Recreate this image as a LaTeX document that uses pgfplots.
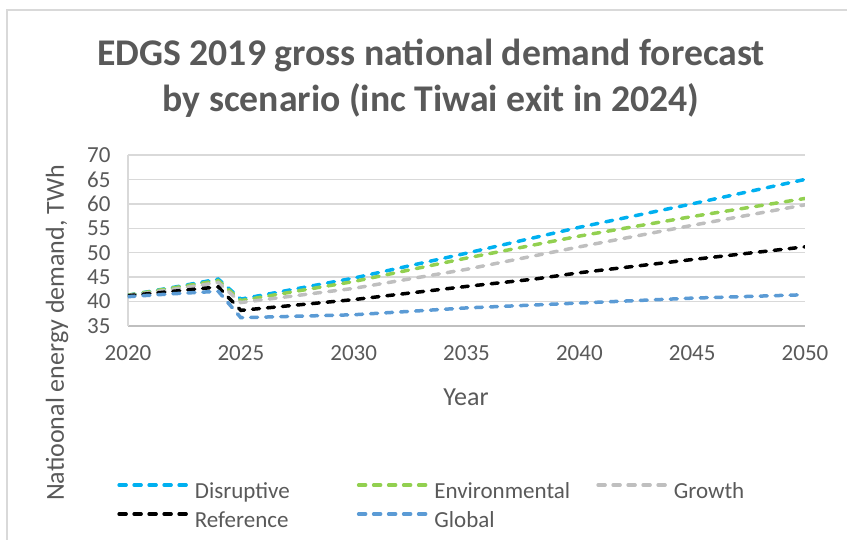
\documentclass[border=0pt]{standalone}
\usepackage{fontspec}
\setmainfont{Carlito}
\usepackage{pgfplots}
\pgfplotsset{compat=1.18}
\definecolor{textgray}{HTML}{595959}
\definecolor{gridgray}{HTML}{D9D9D9}
\definecolor{axisgray}{HTML}{BFBFBF}
\definecolor{cDisr}{HTML}{00B0F0}
\definecolor{cEnv}{HTML}{92D050}
\definecolor{cGrow}{HTML}{BFBFBF}
\definecolor{cGlob}{HTML}{5B9BD5}

\begin{document}
\begin{tikzpicture}
\useasboundingbox (0,0) rectangle (847pt,540pt);
% chart frame (left and top edges visible)
\draw[gridgray, line width=1.2pt] (7pt,0pt) -- (7pt,530pt) -- (847pt,530pt);

\begin{axis}[
	at={(128pt,214pt)}, anchor=south west,
	scale only axis, width=677pt, height=171pt,
	xmin=2020, xmax=2050, ymin=35, ymax=70,
	xtick={2020,2025,...,2050}, ytick={35,40,...,70},
	/pgf/number format/assume math mode=true,
	/pgf/number format/1000 sep={},
	tick label style={font=\fontsize{23}{27}\selectfont, text=textgray},
	xticklabel style={yshift=-16pt},
	yticklabel style={xshift=-14pt},
	major tick length=0pt,
	axis x line*=bottom, axis y line*=left,
	x axis line style={draw=axisgray, line width=1.5pt},
	y axis line style={draw=gridgray, line width=1.3pt},
	ymajorgrids, grid style={draw=gridgray, line width=1.3pt},
	xlabel={Year}, ylabel={Natioonal energy demand, TWh},
	every axis x label/.style={at={(axis description cs:0.4993,-0.415)}, anchor=center,
		font=\fontsize{26}{30}\selectfont, text=textgray},
	every axis y label/.style={at={(axis description cs:-0.1049,-0.041)}, rotate=90, anchor=center,
		font=\fontsize{26}{30}\selectfont, text=textgray},
	no markers,
	every axis plot/.append style={line width=3.5pt, dash pattern=on 7pt off 8pt, line cap=round},
	legend columns=3,
	legend image code/.code={\draw[#1] (0pt,7pt) -- (70pt,7pt);},
	legend style={at={(axis description cs:-0.016,-0.906)}, anchor=north west,
		draw=none, fill=none, font=\fontsize{23}{27}\selectfont, text=textgray,
		column sep=0pt, row sep=7pt, inner sep=0pt,
		nodes={inner xsep=4pt, inner ysep=0pt, text height=17pt, text depth=5pt,
			text width=158pt, align=left}},
	legend cell align=left,
]
\addplot[cDisr] coordinates {(2020,41.3) (2022,42.9) (2024,44.6) (2025,40.5) (2030,44.8)
	(2035,49.9) (2040,55.2) (2045,60.0) (2050,65.0)};
\addlegendentry{Disruptive}
\addplot[cEnv] coordinates {(2020,41.3) (2022,42.8) (2024,44.3) (2025,40.2) (2030,44.1)
	(2035,48.9) (2040,53.4) (2045,57.4) (2050,61.1)};
\addlegendentry{Environmental}
\addplot[cGrow] coordinates {(2020,41.2) (2022,42.5) (2024,43.9) (2025,39.8) (2030,42.7)
	(2035,46.6) (2040,51.2) (2045,55.6) (2050,59.8)};
\addlegendentry{Growth}
\addplot[black] coordinates {(2020,41.2) (2022,42.1) (2024,43.0) (2025,38.2) (2030,40.4)
	(2035,43.1) (2038,44.6) (2040,45.9) (2045,48.6) (2050,51.2)};
\addlegendentry{Reference}
\addplot[cGlob] coordinates {(2020,41.0) (2022,41.6) (2024,42.1) (2025,36.7) (2030,37.3)
	(2035,38.7) (2040,39.7) (2045,40.7) (2050,41.4)};
\addlegendentry{Global}
\end{axis}

\node[align=center, text=textgray, font=\fontsize{37.7}{46}\selectfont\bfseries]
	at (431pt,462pt) {EDGS 2019 gross national demand forecast\\by scenario (inc Tiwai exit in 2024)};
\end{tikzpicture}
\end{document}
